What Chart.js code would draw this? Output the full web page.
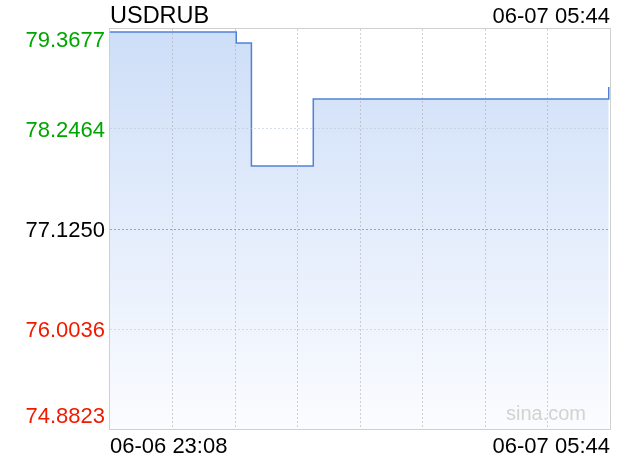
<!DOCTYPE html>
<html>
<head>
<meta charset="utf-8">
<script src="https://cdn.jsdelivr.net/npm/chart.js@4.4.1/dist/chart.umd.min.js"></script>
<style>
  html, body { margin: 0; padding: 0; background: #fff; }
  #wrap { width: 620px; height: 460px; }
</style>
</head>
<body>
<div id="wrap"><canvas id="chart" width="620" height="460"></canvas></div>
<script>
// minutes after 06-06 23:08, and the rate that starts at that minute
const times = [0, 100, 112, 161, 395];
const rates = [79.334, 79.211, 77.832, 78.583, 78.717];

const yTicks = [74.8823, 76.0036, 77.1250, 78.2464, 79.3677];
const yLabels = ['74.8823', '76.0036', '77.1250', '78.2464', '79.3677'];
const prevClose = 77.1250;

const xTicks = [0, 49.5, 99, 148.5, 198, 247.5, 297, 346.5, 396];
const xLabels = ['06-06 23:08', '06-07 05:44'];

const title = 'USDRUB';
const stamp = '06-07 05:44';

const FONT = '22px "Liberation Sans", Arial, sans-serif';

// draws the frame, the labels and the watermark
const labelsPlugin = {
  id: 'labels',
  afterDraw(chart) {
    const ctx = chart.ctx;
    const area = chart.chartArea;
    const y = chart.scales.y;
    ctx.save();

    ctx.strokeStyle = '#d0d0d0';
    ctx.lineWidth = 1;
    ctx.strokeRect(Math.round(area.left) - 0.5, Math.round(area.top) - 0.5,
      Math.round(area.right - area.left) + 1, Math.round(area.bottom - area.top) + 1);

    ctx.font = '20px "Liberation Sans", Arial, sans-serif';
    ctx.fillStyle = '#d2d2d2';
    ctx.textAlign = 'right';
    ctx.textBaseline = 'alphabetic';
    ctx.fillText('sina.com', area.right - 24, area.bottom - 9);

    ctx.fillStyle = '#000';
    ctx.font = '23.5px "Liberation Sans", Arial, sans-serif';
    ctx.textAlign = 'left';
    ctx.fillText(title, area.left, 23);
    ctx.font = FONT;
    ctx.textAlign = 'right';
    ctx.fillText(stamp, area.right, 23);

    ctx.textAlign = 'left';
    ctx.fillText(xLabels[0], area.left, 453);
    ctx.textAlign = 'right';
    ctx.fillText(xLabels[1], area.right, 453);

    yTicks.forEach((v, i) => {
      const py = y.getPixelForValue(v);
      let by = py + 8;
      if (i === yTicks.length - 1) by = py + 18;
      if (i === 0) by = py - 6;
      ctx.fillStyle = v > prevClose + 1e-6 ? '#00a600' : (v < prevClose - 1e-6 ? '#f01a00' : '#000');
      ctx.fillText(yLabels[i], area.left - 5, by);
    });
    ctx.restore();
  }
};

// edge grid lines sit under the frame, so leave them out
const isEdge = (c, list) => c.index === 0 || c.index === list.length - 1;

const ctx = document.getElementById('chart').getContext('2d');
new Chart(ctx, {
  type: 'line',
  data: {
    datasets: [{
      data: times.map((t, i) => ({ x: t, y: rates[i] })),
      borderColor: '#4f82d6',
      borderWidth: 1.5,
      stepped: true,
      pointRadius: 0,
      fill: 'start',
      backgroundColor: (c) => {
        const a = c.chart.chartArea;
        if (!a) return 'rgba(208,224,248,0.8)';
        const g = c.chart.ctx.createLinearGradient(0, a.top, 0, a.bottom);
        g.addColorStop(0, '#cddef8');
        g.addColorStop(1, '#fbfcff');
        return g;
      }
    }]
  },
  options: {
    responsive: false,
    animation: false,
    layout: { padding: { left: 110, right: 10, top: 29, bottom: 31 } },
    plugins: { legend: { display: false }, tooltip: { enabled: false } },
    scales: {
      x: {
        type: 'linear',
        min: 0,
        max: 396,
        afterBuildTicks: (s) => { s.ticks = xTicks.map(v => ({ value: v })); },
        ticks: { display: false },
        grid: {
          z: 1,
          drawTicks: false,
          lineWidth: 1,
          color: (c) => isEdge(c, xTicks) ? 'rgba(0,0,0,0)' : 'rgba(170,170,180,0.55)'
        },
        border: { display: false, dash: [2, 2] }
      },
      y: {
        min: 74.8823,
        max: 79.3677,
        afterBuildTicks: (s) => { s.ticks = yTicks.map(v => ({ value: v })); },
        ticks: { display: false },
        grid: {
          z: 1,
          drawTicks: false,
          lineWidth: 1,
          color: (c) => {
            if (isEdge(c, yTicks)) return 'rgba(0,0,0,0)';
            return Math.abs(c.tick.value - prevClose) < 1e-6 ? 'rgba(140,145,170,0.8)' : 'rgba(180,195,220,0.55)';
          }
        },
        border: { display: false, dash: [2, 2] }
      }
    }
  },
  plugins: [labelsPlugin]
});
</script>
</body>
</html>
